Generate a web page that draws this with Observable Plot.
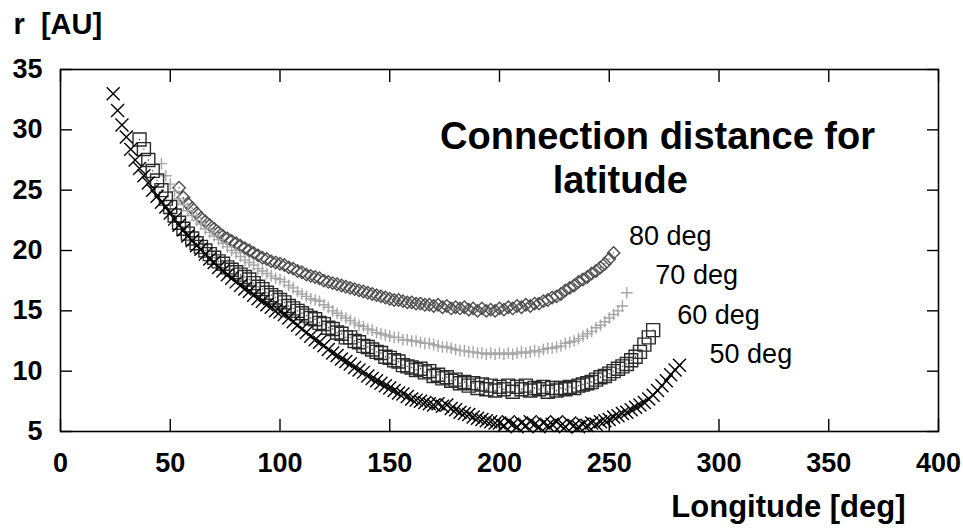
<!DOCTYPE html>
<html>
<head>
<meta charset="utf-8">
<script src="https://cdn.jsdelivr.net/npm/d3@7"></script>
<script src="https://cdn.jsdelivr.net/npm/@observablehq/plot@0.6"></script>
<style>
  html, body { margin: 0; padding: 0; background: #fff; }
  #chart { width: 963px; height: 530px; }
</style>
</head>
<body>
<div id="chart"></div>
<script>
// Longitude sampling grid [deg]
const longitude = [
  24, 26, 28, 30, 32, 34, 36, 38, 40, 42, 44, 46, 48, 50, 52, 54, 56, 58, 60, 62,
  64, 66, 68, 70, 72, 74, 76, 78, 80, 82, 84, 86, 88, 90, 92, 94, 96, 98, 100, 102,
  104, 106, 108, 110, 112, 114, 116, 118, 120, 122, 124, 126, 128, 130, 132, 134, 136, 138, 140, 142,
  144, 146, 148, 150, 152, 154, 156, 158, 160, 162, 164, 166, 168, 170, 172, 174, 176, 178, 180, 182,
  184, 186, 188, 190, 192, 194, 196, 198, 200, 202, 204, 206, 208, 210, 212, 214, 216, 218, 220, 222,
  224, 226, 228, 230, 232, 234, 236, 238, 240, 242, 244, 246, 248, 250, 252, 254, 256, 258, 260, 262,
  264, 266, 268, 270, 272, 274, 276, 278, 280, 282
];

// Connection distance r [AU] per latitude, starting at the given longitude
const lat50Start = 24;
const lat50 = [
  33.0, 31.6, 30.4, 29.4, 28.4, 27.5, 26.8, 26.2, 25.6, 25.0,
  24.5, 24.0, 23.6, 23.1, 22.6, 22.1, 21.7, 21.2, 20.8, 20.4,
  20.1, 19.7, 19.3, 19.0, 18.6, 18.3, 18.0, 17.7, 17.4, 17.1,
  16.8, 16.6, 16.3, 16.0, 15.8, 15.5, 15.3, 15.0, 14.9, 14.7,
  14.4, 14.1, 13.8, 13.5, 13.2, 12.9, 12.6, 12.4, 12.1, 11.8,
  11.5, 11.3, 11.0, 10.8, 10.6, 10.3, 10.1, 9.9, 9.6, 9.4,
  9.2, 9.0, 8.8, 8.6, 8.4, 8.2, 8.1, 7.9, 7.7, 7.6,
  7.5, 7.4, 7.3, 7.2, 7.3, 7.1, 7.2, 6.9, 6.8, 6.6,
  6.5, 6.4, 6.2, 6.1, 6.0, 5.9, 5.8, 5.7, 5.7, 5.5,
  5.8, 5.6, 5.4, 5.7, 5.5, 5.8, 5.6, 5.4, 5.7, 5.5,
  5.6, 5.8, 5.5, 5.4, 5.7, 5.5, 5.4, 5.6, 5.5, 5.7,
  5.6, 5.8, 5.9, 6.0, 6.2, 6.3, 6.5, 6.6, 6.8, 7.0,
  7.2, 7.4, 7.7, 8.0, 8.4, 8.8, 9.2, 9.7, 10.1, 10.5
];

const lat60Start = 36;
const lat60 = [
  29.2, 28.4, 27.5, 26.6, 25.8, 25.0, 24.3, 23.6, 22.9, 22.3,
  21.8, 21.4, 21.0, 20.6, 20.3, 20.0, 19.7, 19.4, 19.1, 18.9,
  18.6, 18.4, 18.2, 18.0, 17.8, 17.6, 17.3, 17.0, 16.8, 16.5,
  16.3, 16.1, 15.9, 15.7, 15.4, 15.2, 15.0, 14.8, 14.6, 14.4,
  14.3, 14.0, 13.9, 13.6, 13.5, 13.2, 13.1, 12.8, 12.8, 12.5,
  12.4, 12.1, 12.0, 11.8, 11.6, 11.5, 11.2, 11.1, 10.9, 10.8,
  10.5, 10.4, 10.3, 10.1, 10.2, 9.9, 10.0, 9.6, 9.7, 9.4,
  9.5, 9.2, 9.3, 9.0, 9.1, 8.8, 9.0, 8.6, 8.9, 8.5,
  8.8, 8.4, 8.7, 8.5, 8.8, 8.3, 8.7, 8.5, 8.8, 8.4,
  8.6, 8.5, 8.7, 8.3, 8.6, 8.4, 8.6, 8.5, 8.7, 8.6,
  8.8, 8.9, 9.0, 9.1, 9.3, 9.5, 9.6, 9.8, 10.0, 10.2,
  10.4, 10.6, 10.9, 11.2, 11.6, 12.2, 12.8, 13.4
];

const lat70Start = 46;
const lat70 = [
  27.2, 26.2, 25.5, 24.9, 24.3, 23.8, 23.3, 22.9, 22.5, 22.2,
  21.8, 21.5, 21.2, 20.9, 20.6, 20.3, 20.0, 19.8, 19.5, 19.2,
  19.0, 18.8, 18.5, 18.3, 18.1, 17.9, 17.7, 17.6, 17.4, 17.1,
  16.9, 16.6, 16.4, 16.2, 16.0, 15.9, 15.8, 15.5, 15.3, 15.0,
  14.8, 14.6, 14.4, 14.2, 14.0, 13.8, 13.7, 13.5, 13.4, 13.2,
  13.1, 13.0, 12.9, 12.8, 12.8, 12.6, 12.6, 12.5, 12.5, 12.4,
  12.3, 12.3, 12.2, 12.1, 12.0, 12.0, 11.9, 11.8, 11.7, 11.7,
  11.6, 11.6, 11.5, 11.5, 11.4, 11.5, 11.4, 11.5, 11.4, 11.5,
  11.4, 11.5, 11.6, 11.5, 11.6, 11.7, 11.6, 11.8, 11.9, 11.9,
  12.0, 12.1, 12.3, 12.4, 12.5, 12.7, 12.9, 13.1, 13.3, 13.6,
  13.8, 14.1, 14.4, 14.7, 15.0, 15.4, 16.5
];

const lat80Start = 54;
const lat80 = [
  25.2, 24.4, 23.9, 23.5, 23.1, 22.7, 22.4, 22.1, 21.8, 21.5,
  21.2, 21.0, 20.8, 20.6, 20.4, 20.2, 20.0, 19.8, 19.6, 19.4,
  19.3, 19.1, 19.0, 18.9, 18.8, 18.6, 18.5, 18.3, 18.2, 18.0,
  17.9, 17.8, 17.7, 17.5, 17.4, 17.3, 17.2, 17.1, 17.0, 16.9,
  16.8, 16.7, 16.6, 16.5, 16.4, 16.3, 16.2, 16.1, 16.0, 15.9,
  15.9, 15.8, 15.7, 15.7, 15.6, 15.6, 15.5, 15.5, 15.4, 15.5,
  15.3, 15.4, 15.2, 15.3, 15.2, 15.3, 15.1, 15.2, 15.0, 15.2,
  15.0, 15.1, 15.0, 15.2, 15.1, 15.3, 15.2, 15.4, 15.3, 15.5,
  15.4, 15.6, 15.6, 15.8, 15.9, 16.1, 16.2, 16.4, 16.7, 16.9,
  17.1, 17.4, 17.6, 17.8, 18.1, 18.3, 18.6, 18.9, 19.3, 19.8
];

// Axis ticks
const xTicks = [0, 50, 100, 150, 200, 250, 300, 350, 400];
const yTicks = [5, 10, 15, 20, 25, 30, 35];

// Annotations (placed in data units)
const titleLines = ["Connection distance for", "latitude"];
const titleLon = [272, 255];
const titleR = [29.4, 25.8];
const seriesLabels = ["80 deg", "70 deg", "60 deg", "50 deg"];
const seriesLabelLon = [259, 271, 281, 295.7];
const seriesLabelR = [21.15, 17.9, 14.6, 11.4];

function rows(values, firstLon) {
  const i0 = longitude.indexOf(firstLon);
  return values.map((r, i) => ({lon: longitude[i0 + i], r}));
}

const symTimes = {draw(c) { const h = 6.5; c.moveTo(-h, -h); c.lineTo(h, h); c.moveTo(h, -h); c.lineTo(-h, h); }};
const symPlus = {draw(c) { const h = 5.8; c.moveTo(-h, 0); c.lineTo(h, 0); c.moveTo(0, -h); c.lineTo(0, h); }};
const symSquare = {draw(c) { const h = 6.5; c.moveTo(-h, -h); c.lineTo(h, -h); c.lineTo(h, h); c.lineTo(-h, h); c.closePath(); c.moveTo(-0.5, 0); c.lineTo(0.5, 0); }};
const symDiamond = {draw(c) { const h = 6.2; c.moveTo(0, -h); c.lineTo(h, 0); c.lineTo(0, h); c.lineTo(-h, 0); c.closePath(); c.moveTo(-0.5, 0); c.lineTo(0.5, 0); }};

const font = "'Liberation Sans', Arial, Helvetica, sans-serif";

const titles = titleLines.map((t, i) => ({t, lon: titleLon[i], r: titleR[i]}));
const labels = seriesLabels.map((t, i) => ({t, lon: seriesLabelLon[i], r: seriesLabelR[i]}));

const plot = Plot.plot({
  width: 963,
  height: 530,
  marginLeft: 60,
  marginRight: 25,
  marginTop: 69,
  marginBottom: 99,
  style: {background: "#fff", color: "#000", fontFamily: font},
  x: {domain: [0, 400]},
  y: {domain: [5, 35]},
  marks: [
    // inward ticks on all four sides
    Plot.axisX(xTicks, {anchor: "bottom", tickSize: 12, dy: -12, fill: "none", label: null, strokeWidth: 1.4}),
    Plot.axisX(xTicks, {anchor: "top", tickSize: 12, dy: 12, fill: "none", label: null, strokeWidth: 1.4}),
    Plot.axisY(yTicks, {anchor: "left", tickSize: 12, dx: 12, fill: "none", label: null, strokeWidth: 1.4}),
    Plot.axisY(yTicks, {anchor: "right", tickSize: 12, dx: -12, fill: "none", label: null, strokeWidth: 1.4}),
    // tick labels
    Plot.axisX(xTicks, {anchor: "bottom", tickSize: 0, tickPadding: 21, label: null, fontSize: 27, fontWeight: "bold", tickFormat: d => String(d)}),
    Plot.axisY(yTicks, {anchor: "left", tickSize: 0, tickPadding: 18, label: null, fontSize: 27, fontWeight: "bold", tickFormat: d => String(d)}),
    Plot.frame({stroke: "#000", strokeWidth: 1.6}),
    // data
    Plot.dot(rows(lat80, lat80Start), {x: "lon", y: "r", r: 5, symbol: symDiamond, stroke: "#4d4d4d", fill: "none", strokeWidth: 1.4}),
    Plot.dot(rows(lat70, lat70Start), {x: "lon", y: "r", r: 5, symbol: symPlus, stroke: "#a6a6a6", fill: "none", strokeWidth: 1.4}),
    Plot.dot(rows(lat60, lat60Start), {x: "lon", y: "r", r: 5, symbol: symSquare, stroke: "#2b2b2b", fill: "none", strokeWidth: 1.4}),
    Plot.dot(rows(lat50, lat50Start), {x: "lon", y: "r", r: 5, symbol: symTimes, stroke: "#000", fill: "none", strokeWidth: 1.4}),
    // annotations
    Plot.text(titles, {x: "lon", y: "r", text: "t", fontSize: 38, fontWeight: "bold", textAnchor: "middle", lineAnchor: "middle", fill: "#000"}),
    Plot.text(labels, {x: "lon", y: "r", text: "t", fontSize: 27, textAnchor: "start", lineAnchor: "middle", fill: "#000"}),
    // axis titles
    Plot.text(["r\u00a0\u00a0[AU]"], {frameAnchor: "top-left", dx: -47, dy: -45, text: d => d, fontSize: 29, fontWeight: "bold", textAnchor: "start", lineAnchor: "middle", fill: "#000"}),
    Plot.text(["Longitude [deg]"], {frameAnchor: "bottom-right", dx: -33, dy: 76, text: d => d, fontSize: 31, fontWeight: "bold", textAnchor: "end", lineAnchor: "middle", fill: "#000"})
  ]
});
document.getElementById("chart").appendChild(plot);
</script>
</body>
</html>
